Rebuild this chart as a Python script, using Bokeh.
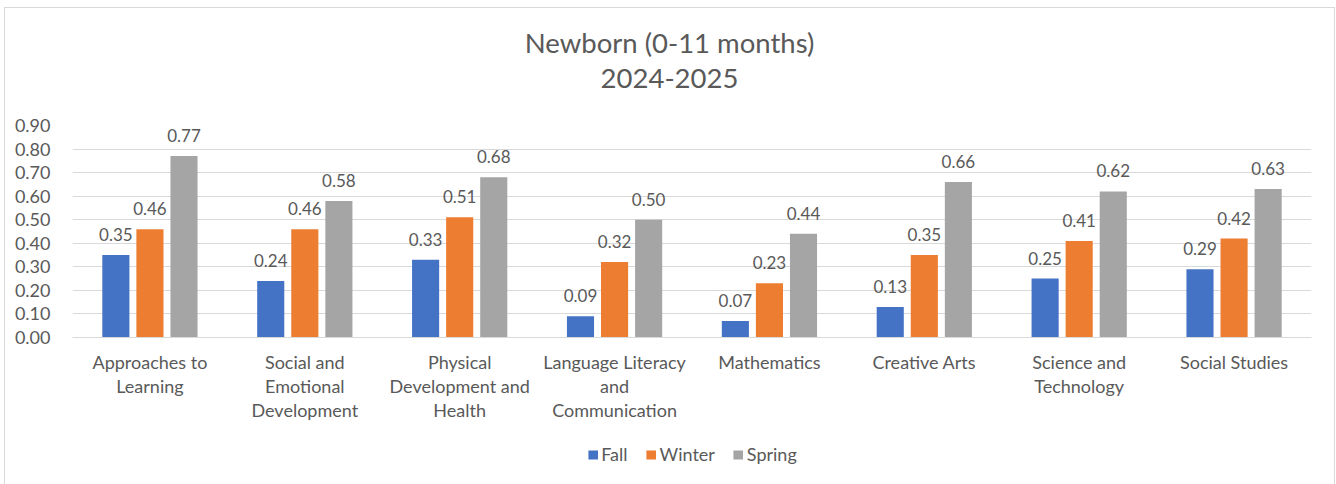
from bokeh.plotting import figure
from bokeh.layouts import column
from bokeh.models import ColumnDataSource, FactorRange, Range1d, Legend, LegendItem, FixedTicker, NumeralTickFormatter, LabelSet, Div
from bokeh.transform import dodge
from bokeh.embed import file_html
from bokeh.resources import INLINE
from bokeh.core.properties import value

categories = ["Approaches to\nLearning", "Social and\nEmotional\nDevelopment", "Physical\nDevelopment and\nHealth",
              "Language Literacy\nand\nCommunication", "Mathematics", "Creative Arts", "Science and\nTechnology", "Social Studies"]
fall = [0.35, 0.24, 0.33, 0.09, 0.07, 0.13, 0.25, 0.29]
winter = [0.46, 0.46, 0.51, 0.32, 0.23, 0.35, 0.41, 0.42]
spring = [0.77, 0.58, 0.68, 0.50, 0.44, 0.66, 0.62, 0.63]
series = ["Fall", "Winter", "Spring"]
colors = ["#4472C4", "#ED7D31", "#A5A5A5"]
yticks = [0.0, 0.1, 0.2, 0.3, 0.4, 0.5, 0.6, 0.7, 0.8, 0.9]
title_lines = ["Newborn (0-11 months)", "2024-2025"]

FONT = "Lato"
TXT = "#595959"

src = ColumnDataSource(dict(cat=categories, Fall=fall, Winter=winter, Spring=spring,
                            Fall_l=["%.2f" % v for v in fall],
                            Winter_l=["%.2f" % v for v in winter],
                            Spring_l=["%.2f" % v for v in spring]))

title_div = Div(
    text='<div style="padding-top:17px;text-align:center;font-family:Lato;font-size:27.5px;'
         'line-height:35px;color:%s;width:1329px;">%s</div>' % (TXT, "<br>".join(title_lines)),
    width=1329, height=90, margin=0)

p = figure(frame_width=1239, frame_height=212, x_range=FactorRange(*categories), y_range=Range1d(0, 0.9),
           output_backend="svg", toolbar_location=None)
p.width = None
p.height = None
p.min_border_left = 67
p.min_border_right = 23
p.min_border_top = 27
p.min_border_bottom = 0
p.outline_line_color = None
p.background_fill_color = "white"
p.border_fill_color = "white"

offsets = [-0.22, 0.0, 0.22]
for s, c, off in zip(series, colors, offsets):
    p.vbar(x=dodge("cat", off, range=p.x_range), top=s, width=0.175, source=src,
           fill_color=c, line_color=None)
    labels = LabelSet(x=dodge("cat", off, range=p.x_range), y=s, text=s + "_l", source=src,
                      text_align="center", text_baseline="bottom", y_offset=14,
                      text_font=value(FONT), text_font_size="17px", text_color=TXT)
    p.add_layout(labels)

p.yaxis.ticker = FixedTicker(ticks=yticks)
p.yaxis.formatter = NumeralTickFormatter(format="0.00")
p.yaxis.axis_line_color = None
p.yaxis.major_tick_line_color = None
p.yaxis.minor_tick_line_color = None
p.yaxis.major_label_text_font = FONT
p.yaxis.major_label_text_font_size = "18px"
p.yaxis.major_label_text_color = TXT
p.yaxis.major_label_standoff = 16

p.xaxis.axis_line_color = "#d9d9d9"
p.xaxis.major_tick_line_color = None
p.xaxis.minor_tick_line_color = None
p.xaxis.major_label_text_font = FONT
p.xaxis.major_label_text_font_size = "18px"
p.xaxis.major_label_text_color = TXT
p.xaxis.major_label_text_line_height = 1.1
p.xaxis.major_label_standoff = 7

p.xgrid.grid_line_color = None
p.ygrid.grid_line_color = "#d9d9d9"
p.ygrid.grid_line_width = 1

# legend strip below the chart (its series renderers sit outside the strip's visible range)
lg = figure(width=1329, height=62, x_range=Range1d(0, 1), y_range=Range1d(10, 11),
            output_backend="svg", toolbar_location=None,
            x_axis_location=None, y_axis_location=None)
lg.min_border = 0
lg.outline_line_color = None
lg.grid.visible = False
lg.background_fill_color = "white"
lg.border_fill_color = "white"
items = []
for s, c in zip(series, colors):
    r = lg.vbar(x=s, top=s, width=0.01, source=src, fill_color=c, line_color=None)
    items.append(LegendItem(label=s, renderers=[r]))
legend = Legend(items=items, orientation="horizontal", location="center",
                label_text_font=FONT, label_text_font_size="18px", label_text_color=TXT,
                glyph_width=12, glyph_height=11, spacing=17, label_standoff=3,
                border_line_color=None, background_fill_alpha=0, margin=0, padding=4)
lg.add_layout(legend, "center")

layout = column(title_div, p, lg, spacing=0,
                styles={"border": "1px solid #d9d9d9", "margin-left": "4px", "margin-top": "7px",
                        "background-color": "white"})

open("out.html", "w").write(file_html(layout, INLINE))
